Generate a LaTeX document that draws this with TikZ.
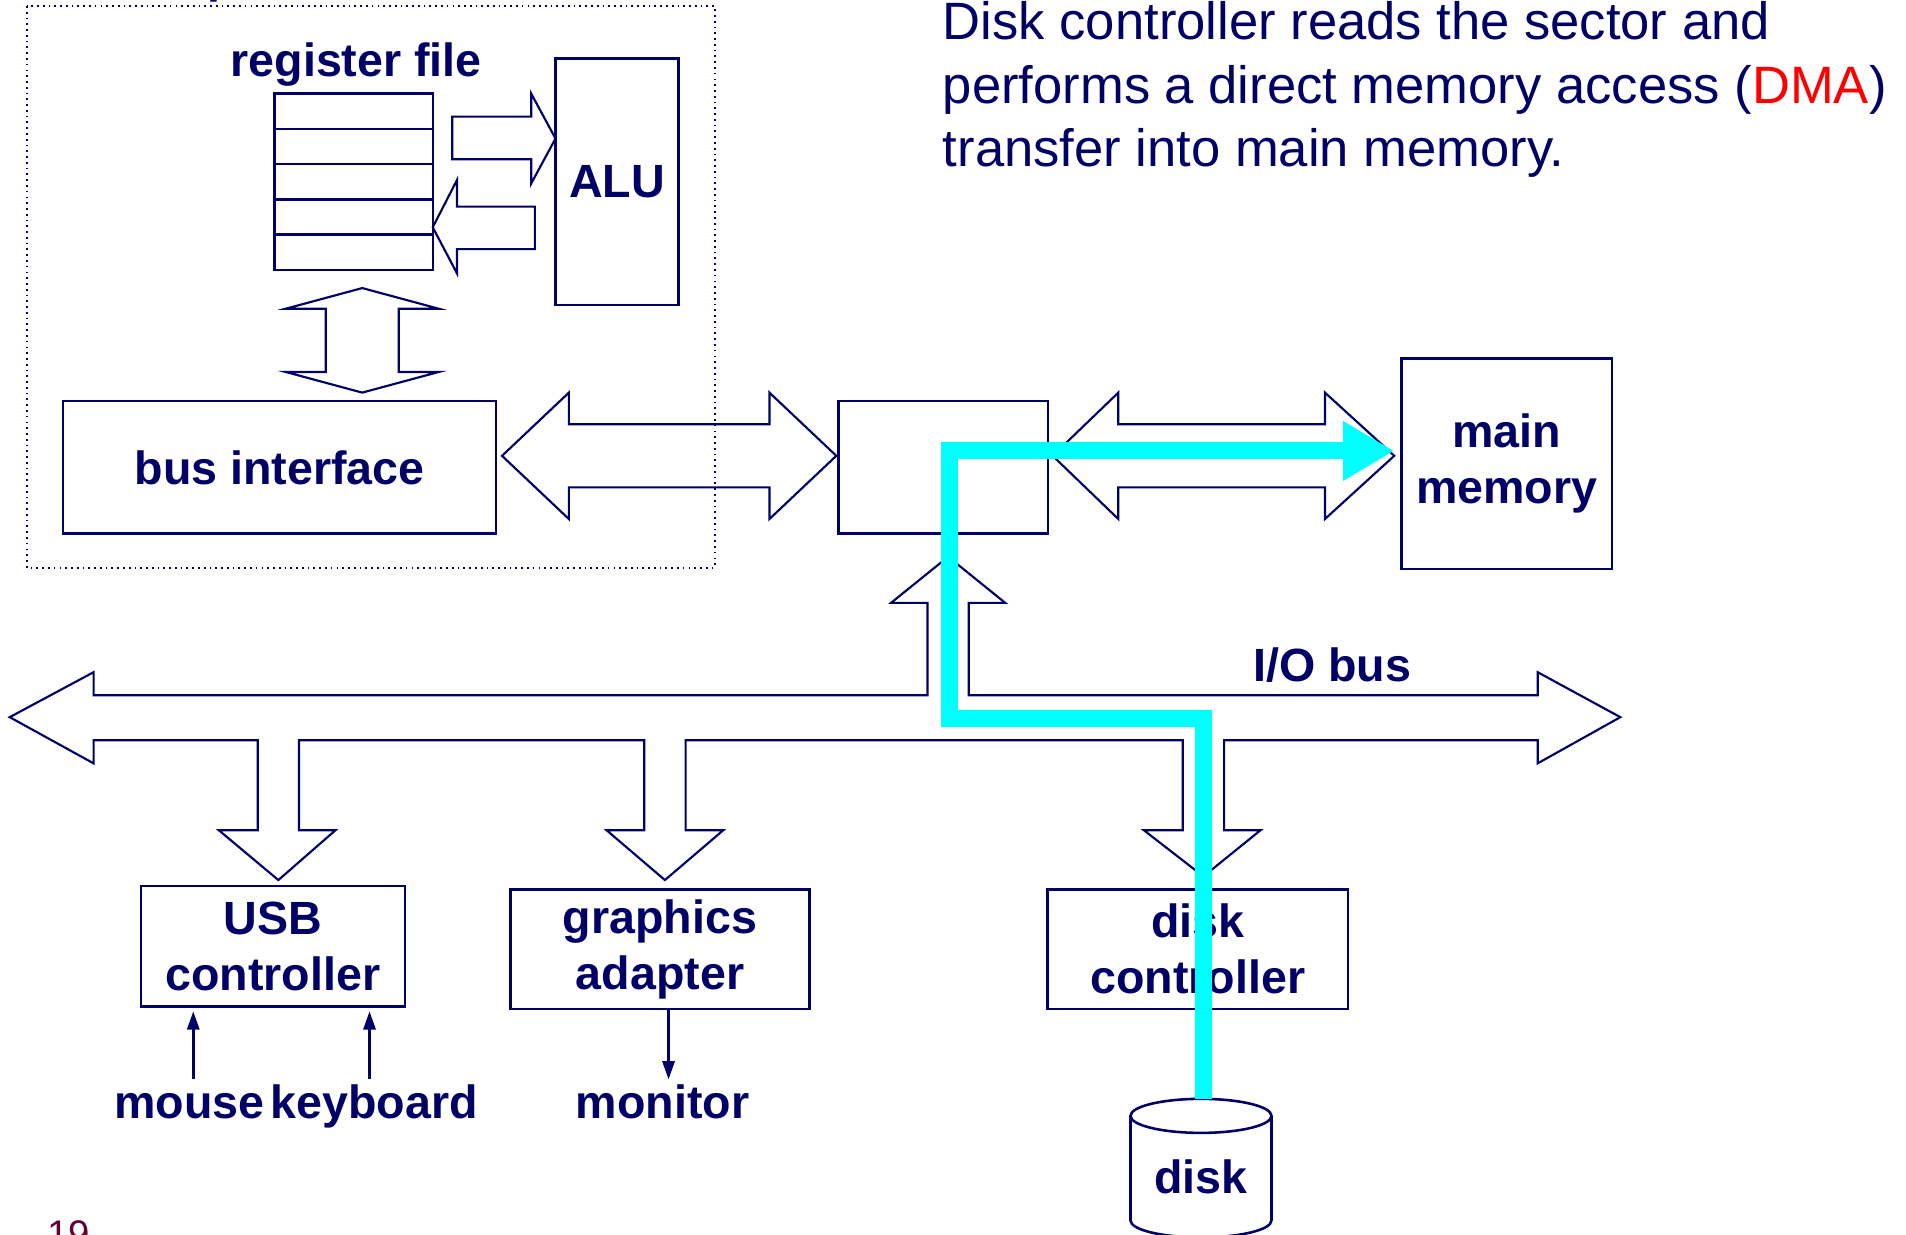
\documentclass[tikz,border=0pt]{standalone}
\usepackage{fontspec}
\setmainfont{Liberation Sans}
\usetikzlibrary{arrows.meta,calc}
\definecolor{ink}{RGB}{0,0,102}
\definecolor{dmared}{RGB}{255,0,0}
\definecolor{flow}{RGB}{0,255,255}
\definecolor{pagenum}{RGB}{102,0,51}
\newcommand\boxfont{\fontsize{10.9pt}{13.1pt}\selectfont\bfseries}
\newcommand\notefont{\fontsize{12.3pt}{14.8pt}\selectfont}

\begin{document}
\begin{tikzpicture}[x=0.01cm,y=-0.01cm,
  box/.style={draw=ink,line width=0.6pt,inner sep=0pt,
              text=ink,font=\boxfont,align=center},
  word/.style={text=ink,font=\boxfont,inner sep=0pt},
  blockarrow/.style={draw=ink,line width=0.5pt,line join=miter},
  sig/.style={draw=ink,line width=0.6pt,-{Triangle[length=0.15cm,width=0.1cm]}},
  chipline/.style={draw=ink,line width=0.45pt,dash pattern=on 0.4pt off 0.95pt},
  dma/.style={draw=flow,line width=0.14cm,line join=miter,
              -{Triangle[length=0.42cm,width=0.46cm]}}]
\useasboundingbox (0,0) rectangle (1568,1016);
\clip (0,0) rectangle (1568,1016);

% CPU chip outline and its label
\draw[chipline] (22,5) rectangle (588,467);
\node[word,anchor=base west] (cpu) at (23,-6) {CPU chip};

% register file, ALU and bus interface
\node[word,anchor=base] (rflabel) at (293,63) {register file};
\node[box,minimum width=1.30cm,minimum height=1.45cm] (regfile) at (291,149.5) {};
\foreach \yy in {106,135,164,193}
  \draw[draw=ink,line width=0.6pt] (regfile.west |- 0,\yy) -- (regfile.east |- 0,\yy);
\node[box,minimum width=1.01cm,minimum height=2.03cm] (alu) at (507.5,149.5) {ALU};
\node[box,minimum width=3.56cm,minimum height=1.09cm] (busif) at (230,384.5) {bus interface};

% I/O bridge and main memory
\node[box,minimum width=1.72cm,minimum height=1.09cm] (bridge) at (776,384.5) {};
\node[box,minimum width=1.73cm,minimum height=1.73cm] (memory) at (1239.5,381.5) {main\\memory};

% block arrows inside the chip
\draw[blockarrow] (372,96) -- (437,96) -- (437,77) -- (457,114) -- (437,151)
  -- (437,131) -- (372,131) -- cycle;
\draw[blockarrow] (440,170) -- (376,170) -- (376,148) -- (356,187) -- (376,225)
  -- (376,205) -- (440,205) -- cycle;
\draw[blockarrow] (298,237) -- (361,254) -- (328,254) -- (328,306) -- (361,306)
  -- (298,323) -- (235,306) -- (268,306) -- (268,254) -- (235,254) -- cycle;

% system bus and memory bus
\draw[blockarrow] (413,375) -- (468,323) -- (468,349) -- (633,349) -- (633,323)
  -- (688,375) -- (633,427) -- (633,401) -- (468,401) -- (468,427) -- cycle;
\draw[blockarrow] (866,375) -- (920,323) -- (920,349) -- (1090,349) -- (1090,323)
  -- (1147,375) -- (1090,427) -- (1090,401) -- (920,401) -- (920,427) -- cycle;

% I/O bus with its branches
\draw[blockarrow] (8,590) -- (77,553) -- (77,572) -- (763,572) -- (763,496)
  -- (733,496) -- (780,458) -- (827,496) -- (797,496) -- (797,572)
  -- (1265,572) -- (1265,553) -- (1333,590) -- (1265,628) -- (1265,609)
  -- (1007,609) -- (1007,683) -- (1037,683) -- (990,721) -- (941,683) -- (973,683)
  -- (973,609) -- (564,609) -- (564,683) -- (595,683) -- (547,724) -- (499,683)
  -- (530,683) -- (530,609) -- (246,609) -- (246,683) -- (276,683) -- (229,724)
  -- (180,683) -- (212,683) -- (212,609) -- (77,609) -- (77,628) -- cycle;
\node[word,anchor=base] (iobus) at (1096,561) {I/O bus};

% I/O devices
\node[box,minimum width=2.17cm,minimum height=0.99cm] (usb) at (224.5,778.5) {USB\\controller};
\node[box,minimum width=2.46cm,minimum height=0.98cm] (gfx) at (543,781) {graphics\\adapter};
\node[box,minimum width=2.47cm,minimum height=0.98cm] (diskctl) at (985.5,781) {disk\\controller};

\node[word,anchor=base] (mouse) at (156,920) {mouse};
\node[word,anchor=base] (keyboard) at (308,920) {keyboard};
\node[word,anchor=base] (monitor) at (545,920) {monitor};
\coordinate (mouseout) at (159,888);
\coordinate (keyout) at (304,888);
\coordinate (monin) at (550,888);
\draw[sig] (mouseout) -- (mouseout |- 0,832);
\draw[sig] (keyout) -- (keyout |- 0,832);
\draw[sig] (monin |- gfx.south) -- (monin);

% disk drive
\draw[draw=ink,line width=0.6pt] (930,918) -- (930,1004)
  arc[start angle=180,end angle=0,x radius=58,y radius=14] -- (1046,918);
\draw[draw=ink,line width=0.6pt] (988,918) ellipse [x radius=58,y radius=14];
\node[word] (disk) at (988,968) {disk};
\coordinate (disktop) at (990,904);

% explanation (anchored on the baseline of its last line)
\node[anchor=base west,text=ink,font=\notefont,align=left,inner sep=0pt] (note)
  at (775,137) {Disk controller reads the sector and\\
  performs a direct memory access (\textcolor{dmared}{DMA})\\
  transfer into main memory.};

\node[anchor=base west,text=pagenum,font=\fontsize{9pt}{11pt}\selectfont,inner sep=0pt]
  (page) at (38,1026) {19};

% DMA transfer path
\coordinate (dmaend) at (1147,371);
\draw[dma] (disktop) -- (disktop |- 0,591) -- (781,591) -- (781,371) -- (dmaend);
\end{tikzpicture}
\end{document}
